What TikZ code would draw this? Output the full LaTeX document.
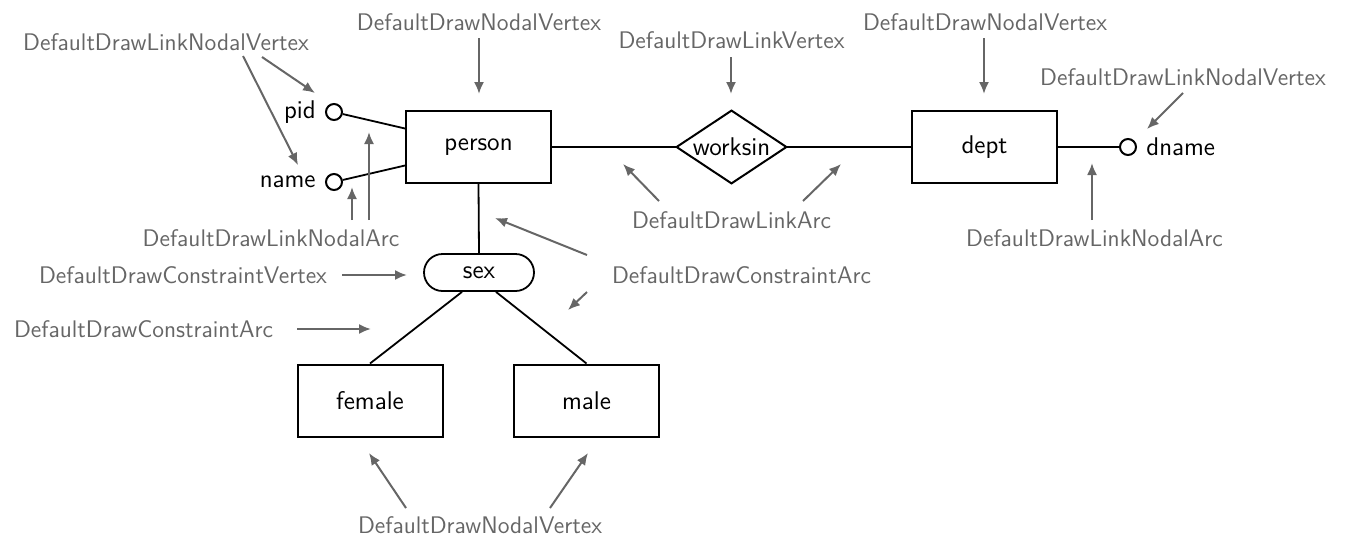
\documentclass[tikz,border=0pt]{standalone}
\usetikzlibrary{arrows.meta,shapes.misc,calc}
\definecolor{notegray}{RGB}{102,102,102}
\tikzset{
  lbl/.style={font=\sffamily\fontsize{12.8}{15}\selectfont},
  entity/.style={lbl, draw, line width=1pt, minimum width=72.5pt, minimum height=36pt, inner sep=0pt},
  relbox/.style={lbl, minimum width=54.5pt, minimum height=36pt, inner sep=0pt},
  constr/.style={lbl, rounded rectangle, draw, line width=0.9pt, minimum width=55pt, minimum height=18.5pt, inner sep=0pt},
  attrdot/.style={circle, draw, line width=1pt, minimum size=8pt, inner sep=0pt},
  attrtext/.style={lbl, inner sep=0pt},
  link/.style={line width=0.9pt},
  note/.style={text=notegray, font=\sffamily\fontsize{12}{14}\selectfont, inner sep=0pt},
  pointer/.style={draw=notegray, line width=1pt, -{Latex[length=6pt,width=5pt]}},
}
\begin{document}
\begin{tikzpicture}[x=0.5pt,y=-0.5pt]
\useasboundingbox (0,0) rectangle (1350,537);

% entities, relationship and constraint
\node[entity] (person) at (478.5,147) {person};
\node[relbox] (worksin) at (731.5,147) {worksin};
\draw[line width=1pt] (worksin.west) -- (worksin.north) -- (worksin.east) -- (worksin.south) -- cycle;
\node[entity] (dept) at (984.5,147) {dept};
\node[constr] (sex) at (479,272.5) {sex};
\node[entity] (female) at (370,400.5) {female};
\node[entity] (male) at (586.5,400.5) {male};

% attributes
\node[attrdot] (pidc) at (334,112) {};
\node[attrtext, anchor=east] (pid) at (316,112) {pid};
\node[attrdot] (namec) at (334,182) {};
\node[attrtext, anchor=east] (name) at (316,182) {name};
\node[attrdot] (dnamec) at (1128,147) {};
\node[attrtext, anchor=west] (dname) at (1146,147) {dname};

% links
\draw[link] (pidc) -- ($(person.north west)!0.25!(person.south west)$);
\draw[link] (namec) -- ($(person.north west)!0.75!(person.south west)$);
\draw[link] (person.east) -- (worksin.west);
\draw[link] (worksin.east) -- (dept.west);
\draw[link] (dept.east) -- (dnamec);
\draw[link] (person.south) -- (sex.north);
\draw[link] ($(sex.south)+(-17,0)$) -- (female.north);
\draw[link] ($(sex.south)+(17,0)$) -- (male.north);

% annotation texts
\node[note] (tLNVa) at (166,42) {DefaultDrawLinkNodalVertex};
\node[note] (tNVa) at (479,22) {DefaultDrawNodalVertex};
\node[note] (tLV) at (731.5,40) {DefaultDrawLinkVertex};
\node[note] (tNVb) at (985,22) {DefaultDrawNodalVertex};
\node[note] (tLNVb) at (1183,77) {DefaultDrawLinkNodalVertex};
\node[note] (tLNAa) at (271,238) {DefaultDrawLinkNodalArc};
\node[note] (tLA) at (731.5,220) {DefaultDrawLinkArc};
\node[note] (tLNAb) at (1094.5,238) {DefaultDrawLinkNodalArc};
\node[note] (tCV) at (183,275) {DefaultDrawConstraintVertex};
\node[note] (tCAa) at (143.5,329) {DefaultDrawConstraintArc};
\node[note] (tCAb) at (741.5,275) {DefaultDrawConstraintArc};
\node[note] (tNVc) at (480,525) {DefaultDrawNodalVertex};

% pointer ends
\coordinate (p1s) at (262,57);   \coordinate (p1e) at (315,93);
\coordinate (p2s) at (243,56);   \coordinate (p2e) at (298,165);
\coordinate (p3s) at (479,38);   \coordinate (p3e) at (479,94);
\coordinate (p4s) at (731,57);   \coordinate (p4e) at (731,94);
\coordinate (p5s) at (984,38);   \coordinate (p5e) at (984,94);
\coordinate (p6s) at (1183,93);  \coordinate (p6e) at (1147,129);
\coordinate (p7s) at (352,220);  \coordinate (p7e) at (352,187);
\coordinate (p8s) at (369,220);  \coordinate (p8e) at (369,132);
\coordinate (p9s) at (659,201);  \coordinate (p9e) at (623,164);
\coordinate (p10s) at (803,201); \coordinate (p10e) at (841,164);
\coordinate (p11s) at (1092,220);\coordinate (p11e) at (1092,163);
\coordinate (p12s) at (342,275); \coordinate (p12e) at (407,275);
\coordinate (p13s) at (297,329); \coordinate (p13e) at (371,329);
\coordinate (p14s) at (587,255); \coordinate (p14e) at (495,218);
\coordinate (p15s) at (587,292); \coordinate (p15e) at (568,310);
\coordinate (p16s) at (406,508); \coordinate (p16e) at (369,453);
\coordinate (p17s) at (550,508); \coordinate (p17e) at (588,453);

\foreach \i in {1,...,17} {\draw[pointer] (p\i s) -- (p\i e);}
\end{tikzpicture}
\end{document}
